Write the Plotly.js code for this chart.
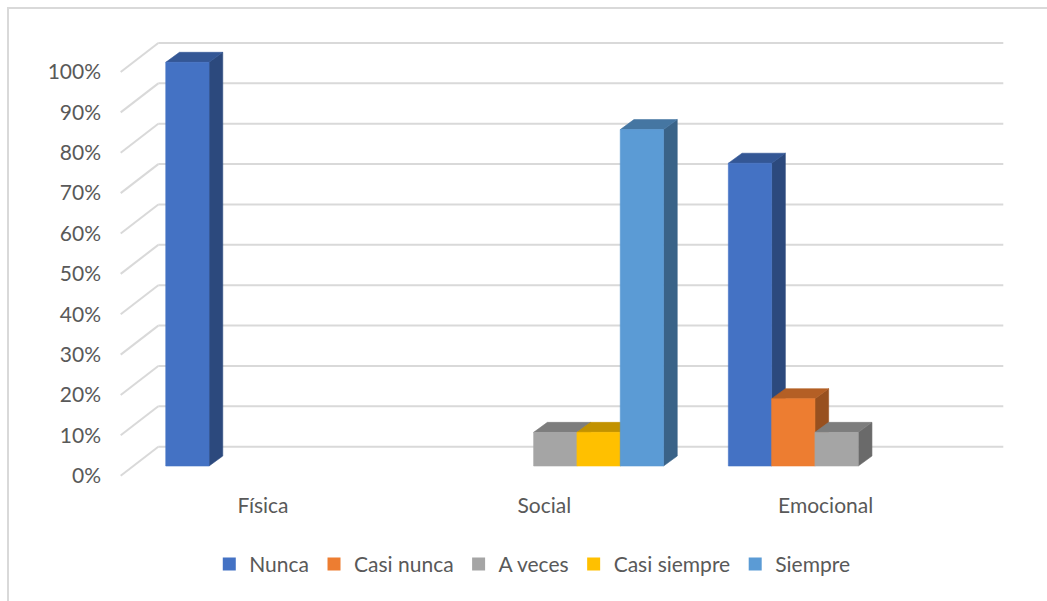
<!DOCTYPE html>
<html>
<head>
<meta charset="utf-8">
<script src="https://cdn.plot.ly/plotly-3.0.1.min.js"></script>
<style>
html,body{margin:0;padding:0;background:#fff;}
#chart{position:absolute;left:0;top:0;width:1047px;height:601px;}
#frame{position:absolute;left:7px;top:7px;width:1045px;height:600px;border-left:2px solid #d9d9d9;border-top:2px solid #d9d9d9;pointer-events:none;}
</style>
</head>
<body>
<div id="chart"></div>
<div id="frame"></div>
<script>
// ---------- data ----------
const categories = ['Física', 'Social', 'Emocional'];
const seriesNames = ['Nunca', 'Casi nunca', 'A veces', 'Casi siempre', 'Siempre'];
const nunca       = [100, 0, 75];
const casiNunca   = [0, 0, 16.67];
const aVeces      = [0, 8.33, 8.33];
const casiSiempre = [0, 8.33, 0];
const siempre     = [0, 83.33, 0];
const yTickVals = [0, 10, 20, 30, 40, 50, 60, 70, 80, 90, 100];
const yTickText = ['0%', '10%', '20%', '30%', '40%', '50%', '60%', '70%', '80%', '90%', '100%'];
const seriesColors = ['#4472C4', '#ED7D31', '#A5A5A5', '#FFC000', '#5B9BD5'];
const seriesValues = [nunca, casiNunca, aVeces, casiSiempre, siempre];

// ---------- geometry (pixels) ----------
const W = 1047, H = 601;
const M = {l: 110, r: 20, t: 20, b: 110};
const originX = 274, originY = 466;      // pixel of x=0 / y=0 on the bar front plane
const pxPerX = 281.3, pxPerY = 4.037;
const xRange = [(M.l - originX) / pxPerX, (W - M.r - originX) / pxPerX];
const yRange = [-(H - M.b - originY) / pxPerY, (originY - M.t) / pxPerY];
const barW = 43.3 / pxPerX;
const depth = {dx: 13.7 / pxPerX, dy: 10 / pxPerY};
const wall = {dy: 19.3 / pxPerY, left: (158.3 - originX) / pxPerX, right: (1003.3 - originX) / pxPerX};
const floorFront = {x: (120.7 - originX) / pxPerX, dy: -9.7 / pxPerY};
// tick-label axis sits on the front floor edge plane (shifted down from the bar plane)
const yLabelRange = [yRange[0] - floorFront.dy, yRange[1] - floorFront.dy];

function shade(hex, f) {
  const n = parseInt(hex.slice(1), 16);
  const r = Math.round(((n >> 16) & 255) * f), g = Math.round(((n >> 8) & 255) * f), b = Math.round((n & 255) * f);
  return 'rgb(' + r + ',' + g + ',' + b + ')';
}

const font = {family: 'Lato, "Open Sans", sans-serif', size: 21, color: '#595959'};
const traces = [];
seriesValues.forEach((vals, s) => {
  const side = {x: [], y: []}, top = {x: [], y: []}, front = {x: [], y: []};
  vals.forEach((v, c) => {
    if (!v) return;
    const x0 = c + (s - 2.5) * barW, x1 = x0 + barW;
    front.x.push(x0, x1, x1, x0, x0, null); front.y.push(0, 0, v, v, 0, null);
    top.x.push(x0, x1, x1 + depth.dx, x0 + depth.dx, x0, null);
    top.y.push(v, v, v + depth.dy, v + depth.dy, v, null);
    side.x.push(x1, x1 + depth.dx, x1 + depth.dx, x1, x1, null);
    side.y.push(0, depth.dy, v + depth.dy, v, 0, null);
  });
  const face = (d, col) => ({
    type: 'scatter', mode: 'lines', x: d.x, y: d.y, fill: 'toself', fillcolor: col,
    line: {width: 0.6, color: col}, showlegend: false, hoverinfo: 'skip', connectgaps: false
  });
  traces.push(face(side, shade(seriesColors[s], 0.64)));
  traces.push(face(top, shade(seriesColors[s], 0.76)));
  traces.push(face(front, seriesColors[s]));
});
// legend entries (attached to the label axis)
seriesNames.forEach((name, s) => {
  traces.push({type: 'scatter', mode: 'markers', x: [null], y: [null], yaxis: 'y2', name: name,
    marker: {symbol: 'square', size: 13, color: seriesColors[s]}, hoverinfo: 'skip'});
});

// gridlines (back wall + floor slant), built from the tick values
const shapes = [];
yTickVals.forEach(v => {
  const line = {color: '#d9d9d9', width: 2};
  shapes.push({type: 'line', xref: 'x', yref: 'y', layer: 'below', line: line,
    x0: wall.left, x1: wall.right, y0: v + wall.dy, y1: v + wall.dy});
  shapes.push({type: 'line', xref: 'x', yref: 'y', layer: 'below', line: line,
    x0: floorFront.x, x1: wall.left, y0: v + floorFront.dy, y1: v + wall.dy});
});

const layout = {
  width: W, height: H, margin: M,
  paper_bgcolor: '#fff', plot_bgcolor: 'rgba(0,0,0,0)',
  font: font, showlegend: true, hovermode: false,
  xaxis: {range: xRange, tickvals: [0, 1, 2], ticktext: categories, showgrid: false, zeroline: false,
    showline: false, ticks: '', tickfont: font, ticklabelshift: -11, ticklabelstandoff: 0, fixedrange: true},
  yaxis: {range: yRange, showticklabels: false, showgrid: false, zeroline: false,
    showline: false, ticks: '', fixedrange: true},
  yaxis2: {range: yLabelRange, overlaying: 'y', side: 'left', anchor: 'x', tickvals: yTickVals, ticktext: yTickText,
    showgrid: false, zeroline: false, showline: false, ticks: '', tickfont: font, ticklabelstandoff: 8, fixedrange: true},
  legend: {orientation: 'h', x: 0.4605, xanchor: 'center', y: -0.112, yanchor: 'top',
    font: font, itemwidth: 30, traceorder: 'normal', bgcolor: 'rgba(0,0,0,0)'},
  shapes: shapes
};
Plotly.newPlot('chart', traces, layout, {staticPlot: true, displayModeBar: false});
</script>
</body>
</html>
